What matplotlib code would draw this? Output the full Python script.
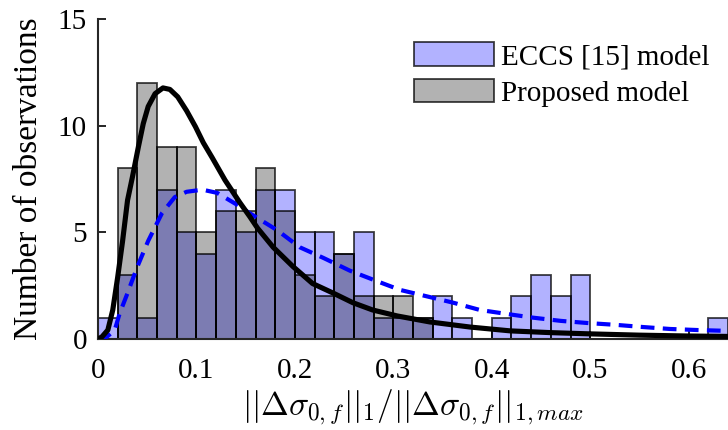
import numpy as np
import matplotlib.pyplot as plt

plt.rcParams['font.family'] = ['Liberation Serif', 'DejaVu Serif']
plt.rcParams['mathtext.fontset'] = 'cm'

# histogram bins (width 0.02 starting at 0)
bin_width = 0.02
eccs_counts = [1, 3, 1, 7, 5, 4, 7, 5, 7, 7, 5, 5, 4, 5, 1, 1,
               1, 2, 1, 0, 1, 2, 3, 2, 3, 0, 0, 0, 0, 0, 0, 1]
prop_counts = [0, 8, 12, 9, 9, 5, 6, 6, 8, 6, 3, 2, 4, 2, 2, 2, 1]

# fitted curves
prop_fit_x = [0.0, 0.004, 0.010, 0.015, 0.020, 0.025, 0.030, 0.035, 0.041,
              0.046, 0.051, 0.058, 0.066, 0.073, 0.081, 0.090, 0.099, 0.107,
              0.116, 0.129, 0.144, 0.154, 0.162, 0.178, 0.198, 0.218, 0.239,
              0.259, 0.279, 0.304, 0.337, 0.378, 0.419, 0.459, 0.5, 0.55,
              0.6, 0.64]
prop_fit_y = [0.0, 0.1, 0.42, 1.36, 2.9, 4.6, 6.5, 7.6, 9.0,
              10.1, 10.9, 11.5, 11.77, 11.7, 11.35, 10.7, 9.95, 9.2,
              8.5, 7.45, 6.4, 5.75, 5.2, 4.3, 3.4, 2.6, 2.15,
              1.7, 1.36, 1.08, 0.8, 0.56, 0.38, 0.3, 0.24, 0.18,
              0.14, 0.12]

eccs_fit_x = [0.0, 0.009, 0.017, 0.022, 0.030, 0.036, 0.041, 0.051, 0.065,
              0.078, 0.090, 0.106, 0.121, 0.141, 0.154, 0.182, 0.205, 0.229,
              0.256, 0.284, 0.307, 0.334, 0.361, 0.388, 0.416, 0.442, 0.47,
              0.497, 0.527, 0.554, 0.581, 0.609, 0.64]
eccs_fit_y = [0.0, 0.1, 0.42, 1.2, 2.15, 2.9, 3.5, 4.6, 5.9,
              6.65, 6.9, 7.0, 6.85, 6.3, 5.9, 5.1, 4.3, 3.8,
              3.2, 2.7, 2.3, 2.0, 1.7, 1.36, 1.17, 1.0, 0.85,
              0.75, 0.66, 0.56, 0.47, 0.42, 0.38]

x_ticks = [0, 0.1, 0.2, 0.3, 0.4, 0.5, 0.6]
x_ticklabels = ['0', '0.1', '0.2', '0.3', '0.4', '0.5', '0.6']
y_ticks = [0, 5, 10, 15]

fig = plt.figure(figsize=(7.28, 4.3), dpi=100)
ax = fig.add_axes([98 / 728, 1 - 339 / 430, 630 / 728, 320 / 430])

eccs_left = np.arange(len(eccs_counts)) * bin_width
prop_left = np.arange(len(prop_counts)) * bin_width

ax.bar(eccs_left, eccs_counts, width=bin_width, align='edge',
       color=(0, 0, 1, 0.3), edgecolor=(0, 0, 0, 0.75), linewidth=1.3,
       label='ECCS [15] model', zorder=2)
ax.bar(prop_left, prop_counts, width=bin_width, align='edge',
       color=(0, 0, 0, 0.3), edgecolor=(0, 0, 0, 0.75), linewidth=1.3,
       label='Proposed model', zorder=2)

ax.plot(prop_fit_x, prop_fit_y, color='black', linewidth=3.7, zorder=4,
        solid_joinstyle='round')
ax.plot(eccs_fit_x, eccs_fit_y, color='blue', linewidth=3.0,
        linestyle=(0, (3.3, 2.0)), zorder=3)

ax.set_xlim(0, 0.64)
ax.set_ylim(0, 15)
ax.set_xticks(x_ticks)
ax.set_xticklabels(x_ticklabels)
ax.set_yticks(y_ticks)
ax.tick_params(direction='in', labelsize=21, width=1.2, length=6, pad=8)
ax.tick_params(axis='x', pad=14)

for side in ['top', 'right']:
    ax.spines[side].set_visible(False)
for side in ['left', 'bottom']:
    ax.spines[side].set_linewidth(1.5)
    ax.spines[side].set_color('#262626')

ax.set_xlabel(r'$||\Delta\sigma_{0,f}||_1/||\Delta\sigma_{0,f}||_{1,max}$',
              fontsize=24, labelpad=2)
ax.set_ylabel('Number of observations', fontsize=24, labelpad=10)

ax.legend(loc='upper left', bbox_to_anchor=(0.501, 0.927), frameon=False,
          fontsize=21, handlelength=2.75, handleheight=0.85,
          handletextpad=0.25, labelspacing=0.3, borderaxespad=0.0,
          borderpad=0.0)

fig.savefig('out.png', dpi=100)
